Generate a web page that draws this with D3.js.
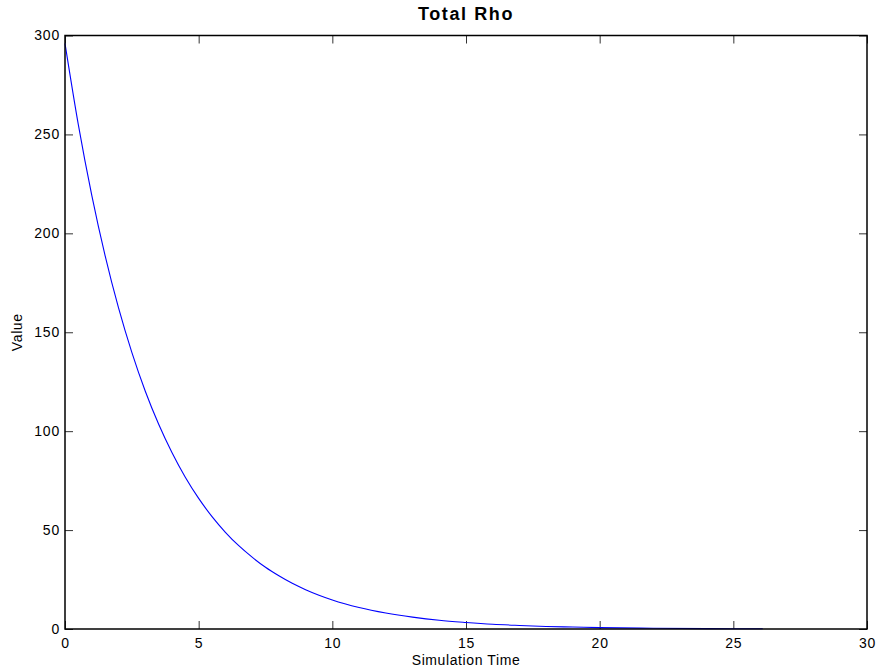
<!DOCTYPE html>
<html>
<head>
	<title>Total Rho</title>
	<script src="https://d3js.org/d3.v7.min.js"></script>
	<style type="text/css">
		body { margin:0; background:#fff; }
		text { font-family: "Liberation Sans", Arial, Helvetica, sans-serif; }
		.tick line { stroke:#333; }
		.tick text { font-size:14px; letter-spacing:0.8px; fill:#000; }
	</style>
</head>
<body>
<script>
	// values
	var simTime = [0, 0.5, 1, 1.5, 2, 2.5, 3, 3.5, 4, 4.5, 5, 5.5, 6, 6.5, 7, 7.5, 8, 8.5, 9, 9.5,
		10, 11, 12, 13, 14, 15, 16, 17, 18, 19, 20, 22, 24, 26.1];
	var totalRho = [296, 254.8, 219.3, 188.7, 162.4, 139.8, 120.3, 103.6, 89.2, 76.7, 66.0, 56.8, 48.9, 42.1, 36.3, 31.2, 26.9, 23.1, 19.9, 17.1,
		14.7, 10.9, 8.1, 6.0, 4.4, 3.3, 2.4, 1.8, 1.3, 1.0, 0.7, 0.4, 0.2, 0.1];
	var xTicks = [0, 5, 10, 15, 20, 25, 30];
	var yTicks = [0, 50, 100, 150, 200, 250, 300];

	var width = 878, height = 672;
	// plot box edges
	var boxL = 65, boxR = 867, boxT = 35.5, boxB = 629;

	var svg = d3.select("body").append("svg")
		.attr("width", width)
		.attr("height", height);

	var xScale = d3.scaleLinear().domain([0, 30]).range([boxL, boxR]);
	var yScale = d3.scaleLinear().domain([0, 300]).range([boxB, boxT]);

	// ticks pointing inward on all four sides
	svg.append("g")
		.attr("transform", "translate(0," + boxB + ")")
		.call(d3.axisBottom(xScale).tickValues(xTicks).tickSize(-8).tickPadding(9))
		.call(g => g.select(".domain").remove());
	svg.append("g")
		.attr("transform", "translate(0," + boxT + ")")
		.call(d3.axisTop(xScale).tickValues(xTicks).tickSize(-8).tickFormat(""))
		.call(g => g.select(".domain").remove());
	svg.append("g")
		.attr("transform", "translate(" + boxL + ",0)")
		.call(d3.axisLeft(yScale).tickValues(yTicks).tickSize(-8).tickPadding(5))
		.call(g => g.select(".domain").remove());
	svg.append("g")
		.attr("transform", "translate(" + boxR + ",0)")
		.call(d3.axisRight(yScale).tickValues(yTicks).tickSize(-8).tickFormat(""))
		.call(g => g.select(".domain").remove());

	var line = d3.line()
		.x(function(d, i){ return xScale(simTime[i]); })
		.y(function(d){ return yScale(d); })
		.curve(d3.curveMonotoneX);

	svg.append("path")
		.datum(totalRho)
		.attr("d", line)
		.style("fill", "none")
		.style("stroke", "#0000ff")
		.style("stroke-width", 1.1);

	// box
	svg.append("rect")
		.attr("x", boxL).attr("y", boxT)
		.attr("width", boxR - boxL).attr("height", boxB - boxT)
		.style("fill", "none")
		.style("stroke", "#000")
		.style("stroke-width", 1.5);

	svg.append("text")
		.attr("x", (boxL + boxR) / 2).attr("y", 19.5)
		.attr("text-anchor", "middle")
		.style("font-size", "18px").style("font-weight", "bold")
		.style("letter-spacing", "1.6px")
		.text("Total Rho");

	svg.append("text")
		.attr("x", (boxL + boxR) / 2).attr("y", 665)
		.attr("text-anchor", "middle")
		.style("font-size", "14px").style("letter-spacing", "0.6px")
		.text("Simulation Time");

	svg.append("text")
		.attr("transform", "translate(22," + (boxT + boxB) / 2 + ") rotate(-90)")
		.attr("text-anchor", "middle")
		.style("font-size", "14px").style("letter-spacing", "0.6px")
		.text("Value");
</script>
</body>
</html>
